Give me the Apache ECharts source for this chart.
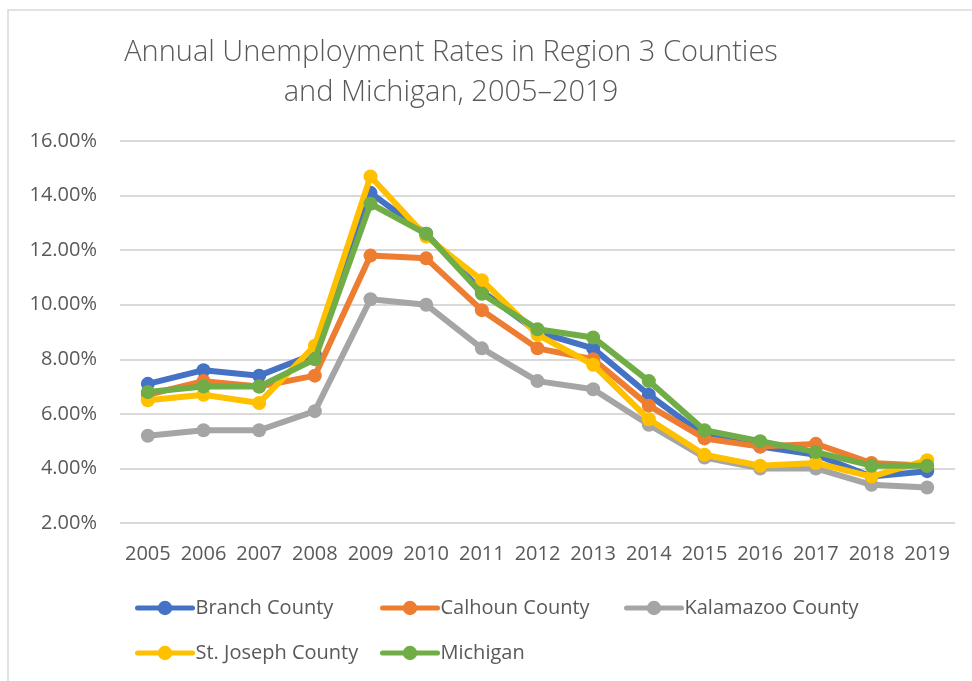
<!DOCTYPE html>
<html>
<head>
<meta charset="utf-8">
<script src="https://cdn.jsdelivr.net/npm/echarts@6/dist/echarts.min.js"></script>
<style>
  html, body { margin: 0; padding: 0; background: #fff; }
  #chart { width: 972px; height: 681px; }
</style>
</head>
<body>
<div id="chart"></div>
<script>
// Annual unemployment rates (%) by year
const years = ['2005','2006','2007','2008','2009','2010','2011','2012','2013','2014','2015','2016','2017','2018','2019'];
const branchCounty    = [7.1, 7.6, 7.4, 8.2, 14.1, 12.6, 10.5, 9.0, 8.4, 6.7, 5.2, 4.8, 4.5, 3.7, 3.9];
const calhounCounty   = [6.7, 7.2, 7.0, 7.4, 11.8, 11.7, 9.8, 8.4, 8.0, 6.3, 5.1, 4.8, 4.9, 4.2, 4.1];
const kalamazooCounty = [5.2, 5.4, 5.4, 6.1, 10.2, 10.0, 8.4, 7.2, 6.9, 5.6, 4.4, 4.0, 4.0, 3.4, 3.3];
const stJosephCounty  = [6.5, 6.7, 6.4, 8.5, 14.7, 12.5, 10.9, 8.9, 7.8, 5.8, 4.5, 4.1, 4.2, 3.7, 4.3];
const michigan        = [6.8, 7.0, 7.0, 8.0, 13.7, 12.6, 10.4, 9.1, 8.8, 7.2, 5.4, 5.0, 4.6, 4.1, 4.1];

const seriesNames = ['Branch County', 'Calhoun County', 'Kalamazoo County', 'St. Joseph County', 'Michigan'];
const seriesData = [branchCounty, calhounCounty, kalamazooCounty, stJosephCounty, michigan];
const colors = ['#4472C4', '#ED7D31', '#A5A5A5', '#FFC000', '#70AD47'];

const FONT = '"Open Sans", "Noto Sans", sans-serif';
const TEXT = '#595959';

// legend laid out as a 3-column grid
const legendSlots = [
  { left: 135, top: 598 },
  { left: 380, top: 598 },
  { left: 624, top: 598 },
  { left: 135, top: 643 },
  { left: 380, top: 643 }
];

const chart = echarts.init(document.getElementById('chart'), null, { renderer: 'canvas' });

chart.setOption({
  animation: false,
  backgroundColor: '#ffffff',
  color: colors,
  graphic: [{
    type: 'rect',
    shape: { x: 8, y: 10, width: 1000, height: 720 },
    style: { fill: 'none', stroke: '#d9d9d9', lineWidth: 1.5 },
    silent: true
  }],
  title: {
    text: 'Annual Unemployment Rates in Region 3 Counties\nand Michigan, 2005\u20132019',
    left: 446,
    top: 28,
    textAlign: 'center',
    textStyle: {
      fontFamily: FONT,
      fontWeight: 300,
      fontSize: 29,
      lineHeight: 40,
      color: TEXT
    }
  },
  legend: seriesNames.map((name, i) => ({
    data: [name],
    left: legendSlots[i].left,
    top: legendSlots[i].top,
    itemWidth: 55,
    itemHeight: 18,
    itemGap: 0,
    padding: 0,
    lineStyle: { width: 5 },
    textStyle: { fontFamily: FONT, fontSize: 20, color: TEXT, padding: [0, 0, 0, -2] },
    selectedMode: false
  })),
  grid: { left: 120, right: 17, top: 141, bottom: 158, containLabel: false },
  xAxis: {
    type: 'category',
    data: years,
    boundaryGap: true,
    axisLine: { show: false },
    axisTick: { show: false },
    axisLabel: { fontFamily: FONT, fontSize: 20, color: TEXT, margin: 21, interval: 0, hideOverlap: false }
  },
  yAxis: {
    type: 'value',
    min: 2,
    max: 16,
    interval: 2,
    axisLine: { show: false },
    axisTick: { show: false },
    axisLabel: {
      fontFamily: FONT, fontSize: 20, color: TEXT, margin: 23,
      formatter: v => v.toFixed(2) + '%'
    },
    splitLine: { lineStyle: { color: '#d9d9d9', width: 2 } }
  },
  series: seriesNames.map((name, i) => ({
    name,
    type: 'line',
    data: seriesData[i],
    symbol: 'circle',
    symbolSize: 14,
    showSymbol: true,
    lineStyle: { width: 6, color: colors[i], cap: 'round', join: 'round' },
    itemStyle: { color: colors[i] },
    z: 2 + i
  }))
});
</script>
</body>
</html>
